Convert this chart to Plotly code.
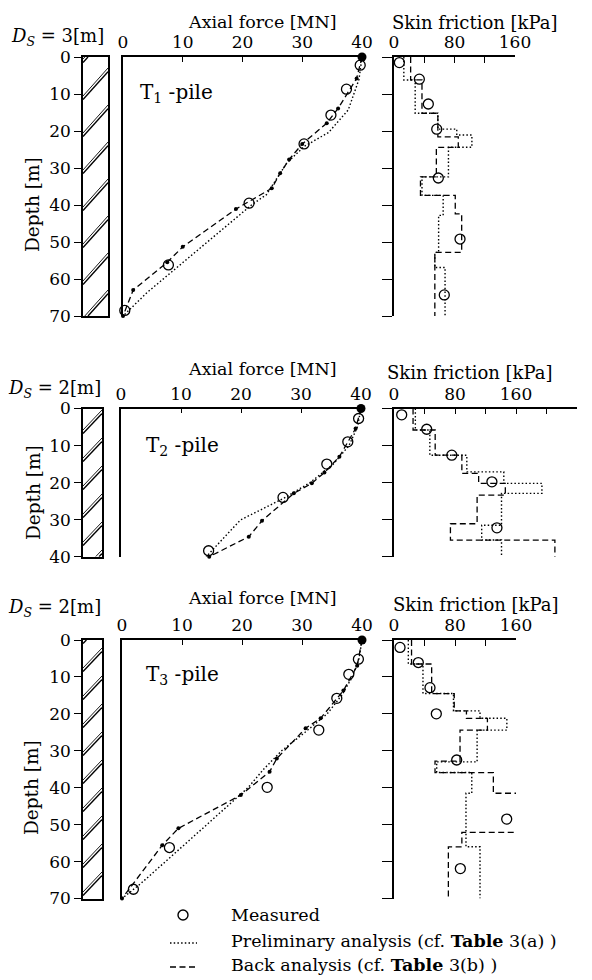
import plotly.graph_objects as go

W, H = 592, 980
FONT = "DejaVu Serif"

# ---------------- data ----------------
# T1 pile : axial force [MN] vs depth [m]
t1_meas_depth = [2.2, 8.7, 15.7, 23.5, 39.5, 56.2, 68.5]
t1_meas_force = [39.7, 37.4, 34.8, 30.3, 21.1, 7.6, 0.3]
t1_pre_depth = [0, 6, 14.3, 20.4, 24.2, 28.7, 37.2, 40, 63.7, 70]
t1_pre_force = [40, 39.5, 37.7, 34.4, 30.3, 27.4, 24.0, 21.5, 4.0, 0]
t1_back_depth = [0, 5.8, 13.9, 17.9, 23.5, 27.7, 31.4, 35.5, 41.1, 51.3, 55.5, 63.0, 70]
t1_back_force = [40, 39.1, 36.0, 34.1, 30.0, 27.8, 26.3, 24.9, 18.9, 10.0, 7.4, 1.7, 0]
# T1 skin friction [kPa]
t1_sf_meas_depth = [1.5, 6.0, 12.7, 19.5, 32.7, 49.2, 64.3]
t1_sf_meas = [7.1, 33.5, 45.4, 56.5, 58.6, 87.3, 66.5]
t1_sf_pre_bounds = [0, 6.2, 15.2, 19.5, 21.1, 24.4, 32.4, 37.4, 42.8, 52.8, 56.9, 70]
t1_sf_pre_vals = [13, 28, 58, 83, 103, 72, 37, 65, 59, 54, 67.5]
t1_sf_back_bounds = [0, 6.2, 15.2, 21.6, 24.4, 32.4, 37.4, 42.4, 52.8, 70]
t1_sf_back_vals = [22, 37, 58, 85, 56, 35, 81, 89.5, 54]

# T2 pile
t2_meas_depth = [2.7, 9.0, 15.0, 24.0, 38.4]
t2_meas_force = [39.6, 37.8, 34.3, 27.0, 14.6]
t2_pre_depth = [0, 5, 10, 15, 20, 24, 30.1, 40]
t2_pre_force = [40, 39.4, 38.0, 35.4, 31.5, 27.4, 19.9, 14.2]
t2_back_depth = [0, 5.4, 13.0, 17.3, 20.2, 22.9, 30.3, 34.6, 40]
t2_back_force = [40, 39.1, 36.4, 33.9, 31.8, 28.8, 23.5, 21.3, 14.7]
t2_sf_meas_depth = [1.7, 5.6, 12.6, 19.8, 32.2]
t2_sf_meas = [10.1, 42.9, 75.8, 128.4, 135]
t2_sf_pre_bounds = [0, 5.8, 12.6, 17.1, 20.2, 22.9, 31.5, 35.5, 40]
t2_sf_pre_vals = [28, 47, 95.5, 144, 194, 141, 115, 141]
t2_sf_back_bounds = [0, 5.8, 12.6, 17.5, 20.2, 23.4, 31.1, 35.5, 40]
t2_sf_back_vals = [25, 54, 89, 111, 146, 109, 74, 211]

# T3 pile
t3_meas_depth = [5.2, 9.3, 15.8, 24.4, 39.9, 56.2, 67.5]
t3_meas_force = [39.4, 37.8, 35.8, 32.8, 24.2, 7.9, 1.9]
t3_pre_depth = [0, 5, 10, 15, 20, 25, 30, 35, 40, 44.3, 55, 66, 70]
t3_pre_force = [40, 39.5, 38.4, 36.6, 34.2, 30.5, 26.6, 23.6, 21.0, 18.1, 10.7, 3.1, 0]
t3_back_depth = [0, 7.0, 13.7, 21.2, 23.9, 32.1, 35.7, 42, 51, 55.6, 70]
t3_back_force = [40, 39.2, 36.9, 33.1, 30.6, 25.8, 24.6, 19.8, 9.4, 6.7, 0]
t3_sf_meas_depth = [2.0, 6.1, 12.9, 20.0, 32.5, 48.5, 61.9]
t3_sf_meas = [7.9, 31.9, 47.2, 55.5, 82.2, 147.8, 87.0]
t3_sf_pre_bounds = [0, 6.5, 14.5, 19.2, 21.2, 24.4, 33.0, 35.9, 41.5, 56.0, 70]
t3_sf_pre_vals = [18.8, 38, 78, 112.8, 148, 109, 56, 102, 94.4, 112.8]
t3_sf_back_bounds = [0, 6.5, 14.5, 19.2, 21.2, 24.4, 32.8, 35.9, 41.5, 52.1, 56.0, 70]
t3_sf_back_vals = [23, 49.4, 79, 95, 122.5, 86.6, 53.8, 130.3, 163, 89, 71.3]

head_load = 40  # MN applied at pile head

axial_ticks = [0, 10, 20, 30, 40]
pile_labels = ["T<sub>1</sub> -pile", "T<sub>2</sub> -pile", "T<sub>3</sub> -pile"]
ds_labels = ["3", "2", "2"]
depth_max = [70, 40, 70]
skin_max = [160, 240, 160]

piles = [
    dict(md=t1_meas_depth, mf=t1_meas_force, pd=t1_pre_depth, pf=t1_pre_force,
         bd=t1_back_depth, bf=t1_back_force, smd=t1_sf_meas_depth, sm=t1_sf_meas,
         spb=t1_sf_pre_bounds, spv=t1_sf_pre_vals, sbb=t1_sf_back_bounds, sbv=t1_sf_back_vals),
    dict(md=t2_meas_depth, mf=t2_meas_force, pd=t2_pre_depth, pf=t2_pre_force,
         bd=t2_back_depth, bf=t2_back_force, smd=t2_sf_meas_depth, sm=t2_sf_meas,
         spb=t2_sf_pre_bounds, spv=t2_sf_pre_vals, sbb=t2_sf_back_bounds, sbv=t2_sf_back_vals),
    dict(md=t3_meas_depth, mf=t3_meas_force, pd=t3_pre_depth, pf=t3_pre_force,
         bd=t3_back_depth, bf=t3_back_force, smd=t3_sf_meas_depth, sm=t3_sf_meas,
         spb=t3_sf_pre_bounds, spv=t3_sf_pre_vals, sbb=t3_sf_back_bounds, sbv=t3_sf_back_vals),
]

# ---------------- layout geometry (pixels) ----------------
geom = [
    dict(top=57, bot=316, hx0=83, hx1=108, ax0=123, ax1=362, sx0=394, sx1=515,
         h_first=68, h_period=37, h_rise=28,
         ds=(57, 37), axt=(262, 22), skt=(475, 23), pl=(176, 93), dep=(33, 205)),
    dict(top=408.5, bot=556.7, hx0=83, hx1=102, ax0=121, ax1=361, sx0=394, sx1=577,
         h_first=410, h_period=28, h_rise=20,
         ds=(54, 389), axt=(262, 369), skt=(470, 372), pl=(182, 446), dep=(33, 493)),
    dict(top=640, bot=898.5, hx0=83, hx1=102, ax0=122, ax1=362, sx0=394, sx1=516,
         h_first=648, h_period=28, h_rise=20,
         ds=(54, 608), axt=(262, 598), skt=(476, 604), pl=(182, 675), dep=(31, 788)),
]

def PX(px):
    return px / W

def PY(py):
    return 1 - py / H

BLACK = "black"
AXW = 1.6
DOT = "1.5px,2.2px"
DASH = "6px,3.5px"

fig = go.Figure()
layout = dict(width=W, height=H, margin=dict(l=0, r=0, t=0, b=0, pad=0, autoexpand=False),
              paper_bgcolor="white", plot_bgcolor="white", showlegend=False,
              font=dict(family=FONT, size=15, color=BLACK))
shapes = []
annotations = []

tickfont = dict(family=FONT, size=17, color=BLACK)

for p in range(3):
    g = geom[p]
    d = piles[p]
    dmax = depth_max[p]
    smax = skin_max[p]
    ydom = [PY(g["bot"]), PY(g["top"])]
    ih, ia, isk = p * 3 + 1, p * 3 + 2, p * 3 + 3

    # hatch (soil) column with depth axis
    layout[f"xaxis{ih}"] = dict(domain=[PX(g["hx0"]), PX(g["hx1"])], range=[0, 1],
                                anchor=f"y{ih}", showline=True, mirror=True, linecolor=BLACK,
                                linewidth=AXW, showticklabels=False, ticks="", showgrid=False,
                                zeroline=False, automargin=False)
    layout[f"yaxis{ih}"] = dict(domain=ydom, range=[dmax, 0], anchor=f"x{ih}",
                                showline=True, mirror=True, linecolor=BLACK, linewidth=AXW,
                                ticks="outside", ticklen=7, tickwidth=1.4, tickcolor=BLACK,
                                dtick=10, tick0=0, tickfont=tickfont, showgrid=False,
                                zeroline=False, automargin=False)
    fig.add_trace(go.Scatter(x=[0.5], y=[0], mode="markers", marker=dict(opacity=0),
                             xaxis=f"x{ih}", yaxis=f"y{ih}", hoverinfo="skip"))

    # hatch lines (decoration)
    rise = g["h_rise"]
    yu = g["h_first"] - g["h_period"]
    while yu < g["bot"] + rise:
        for off, lw in ((0, 0.9), (3.6, 1.4)):
            y_u = yu + off
            t0 = max(0.0, 1 - (g["bot"] - y_u) / rise)
            t1 = min(1.0, 1 - (g["top"] - y_u) / rise)
            if t1 > t0:
                def pt(t):
                    ypx = y_u + rise * (1 - t)
                    return t, (ypx - g["top"]) / (g["bot"] - g["top"]) * dmax
                xa, ya = pt(t0)
                xb, yb = pt(t1)
                shapes.append(dict(type="line", xref=f"x{ih}", yref=f"y{ih}",
                                   x0=xa, y0=ya, x1=xb, y1=yb,
                                   line=dict(color=BLACK, width=lw)))
        yu += g["h_period"]

    # axial force subplot
    layout[f"xaxis{ia}"] = dict(domain=[PX(g["ax0"]), PX(g["ax1"])], range=[0, 40],
                                anchor=f"y{ia}", side="top", showline=True, linecolor=BLACK,
                                linewidth=AXW, ticks="inside", ticklen=5, tickwidth=1.4,
                                tickcolor=BLACK, tickvals=axial_ticks, tickfont=tickfont,
                                showgrid=False, zeroline=False, automargin=False)
    layout[f"yaxis{ia}"] = dict(domain=ydom, range=[dmax, 0], anchor=f"x{ia}",
                                showline=True, linecolor=BLACK, linewidth=AXW, ticks="",
                                showticklabels=False, showgrid=False, zeroline=False,
                                automargin=False)
    fig.add_trace(go.Scatter(x=d["pf"], y=d["pd"], mode="lines",
                             line=dict(color=BLACK, width=1.4, dash=DOT),
                             xaxis=f"x{ia}", yaxis=f"y{ia}", cliponaxis=False))
    fig.add_trace(go.Scatter(x=d["bf"], y=d["bd"], mode="lines+markers",
                             line=dict(color=BLACK, width=1.3, dash=DASH),
                             marker=dict(size=4, color=BLACK),
                             xaxis=f"x{ia}", yaxis=f"y{ia}", cliponaxis=False))
    fig.add_trace(go.Scatter(x=d["mf"], y=d["md"], mode="markers",
                             marker=dict(symbol="circle-open", size=10, color=BLACK,
                                         line=dict(width=1.3)),
                             xaxis=f"x{ia}", yaxis=f"y{ia}", cliponaxis=False))
    fig.add_trace(go.Scatter(x=[head_load], y=[0], mode="markers",
                             marker=dict(size=9, color=BLACK),
                             xaxis=f"x{ia}", yaxis=f"y{ia}", cliponaxis=False))

    # skin friction subplot
    svals = list(range(0, smax + 1, 40))
    stext = [str(v) if v % 80 == 0 else "" for v in svals]
    layout[f"xaxis{isk}"] = dict(domain=[PX(g["sx0"]), PX(g["sx1"])], range=[0, smax],
                                 anchor=f"y{isk}", side="top", showline=True, linecolor=BLACK,
                                 linewidth=AXW, ticks="inside", ticklen=6, tickwidth=1.4,
                                 tickcolor=BLACK, tickvals=svals, ticktext=stext,
                                 tickfont=tickfont, showgrid=False, zeroline=False,
                                 automargin=False)
    layout[f"yaxis{isk}"] = dict(domain=ydom, range=[dmax, 0], anchor=f"x{isk}",
                                 showline=True, linecolor=BLACK, linewidth=AXW,
                                 ticks="outside", ticklen=10, tickwidth=1.4, tickcolor=BLACK,
                                 dtick=10, tick0=0, showticklabels=False, showgrid=False,
                                 zeroline=False, automargin=False)
    # step profiles: value of layer i from bounds[i] to bounds[i+1]
    for bounds, vals, dash, lw in ((d["spb"], d["spv"], DOT, 1.4),
                                   (d["sbb"], d["sbv"], DASH, 1.3)):
        xs = list(vals) + [vals[-1]]
        ys = list(bounds)
        fig.add_trace(go.Scatter(x=xs, y=ys, mode="lines", line_shape="vh",
                                 line=dict(color=BLACK, width=lw, dash=dash),
                                 xaxis=f"x{isk}", yaxis=f"y{isk}", cliponaxis=False))
    fig.add_trace(go.Scatter(x=d["sm"], y=d["smd"], mode="markers",
                             marker=dict(symbol="circle-open", size=10, color=BLACK,
                                         line=dict(width=1.3)),
                             xaxis=f"x{isk}", yaxis=f"y{isk}", cliponaxis=False))

    # texts
    def ann(text, pos, size=15, angle=0, xanchor="center"):
        annotations.append(dict(text=text, x=PX(pos[0]), y=PY(pos[1]), xref="paper",
                                yref="paper", showarrow=False, xanchor=xanchor,
                                yanchor="middle", textangle=angle,
                                font=dict(family=FONT, size=size, color=BLACK)))
    ann(f"<i>D<sub>S</sub></i> = {ds_labels[p]}[m]", g["ds"], size=18)
    ann("Axial force [MN]", g["axt"], size=17.5)
    ann("Skin friction [kPa]", g["skt"], size=18)
    ann(pile_labels[p], g["pl"], size=20)
    ann("Depth [m]", g["dep"], size=18.5, angle=-90)

# legend (drawn manually)
shapes.append(dict(type="circle", xref="paper", yref="paper",
                   x0=PX(178), x1=PX(188), y0=PY(920), y1=PY(910),
                   line=dict(color=BLACK, width=1.4)))
shapes.append(dict(type="line", xref="paper", yref="paper", x0=PX(170), x1=PX(197),
                   y0=PY(943), y1=PY(943), line=dict(color=BLACK, width=1.6, dash=DOT)))
shapes.append(dict(type="line", xref="paper", yref="paper", x0=PX(170), x1=PX(197),
                   y0=PY(967), y1=PY(967), line=dict(color=BLACK, width=1.6, dash=DASH)))
for txt, yy in (("Measured", 915),
                ("Preliminary analysis (cf. <b>Table</b> 3(a) )", 941),
                ("Back analysis (cf. <b>Table</b> 3(b) )", 965)):
    annotations.append(dict(text=txt, x=PX(229), y=PY(yy), xref="paper", yref="paper",
                            showarrow=False, xanchor="left", yanchor="middle",
                            font=dict(family=FONT, size=17.5, color=BLACK)))

layout["shapes"] = shapes
layout["annotations"] = annotations
fig.update_layout(**layout)
fig.write_html("out.html", config={"displayModeBar": False},
               post_script="document.body.style.margin='0px';document.body.style.overflow='hidden';")
